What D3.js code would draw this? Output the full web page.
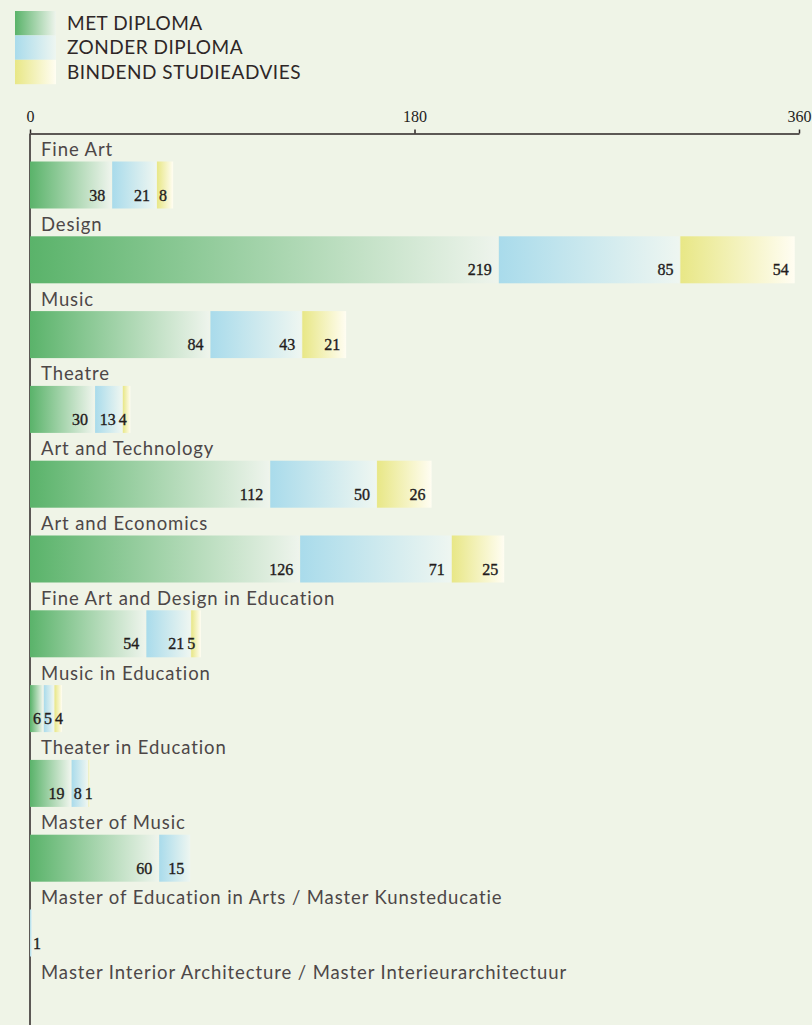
<!DOCTYPE html>
<html>
<head>
<meta charset="utf-8">
<script src="https://cdn.jsdelivr.net/npm/d3@7"></script>
<style>
  html, body { margin: 0; padding: 0; background: #eff4e7; }
  svg { display: block; }
  .cat-label { font-family: "Lato", sans-serif; font-size: 18.5px; fill: #4d4747; letter-spacing: 0.9px; }
  .legend-label { font-family: "Lato", sans-serif; font-size: 19px; fill: #2e2727; letter-spacing: 0.5px; }
  .val { font-family: "Liberation Serif", serif; font-size: 16px; fill: #231c1c; stroke: #231c1c; stroke-width: 0.35px; font-feature-settings: "onum"; }
  .axis-x text { font-family: "Liberation Serif", serif; font-size: 16px; fill: #231c1c; font-feature-settings: "onum"; }
  .axis-x path, .axis-x line { stroke: #2b2424; stroke-width: 1.5; }
</style>
</head>
<body>
<svg id="chart"></svg>
<script>
"use strict";

// categories, top to bottom
var categories = [
  "Fine Art",
  "Design",
  "Music",
  "Theatre",
  "Art and Technology",
  "Art and Economics",
  "Fine Art and Design in Education",
  "Music in Education",
  "Theater in Education",
  "Master of Music",
  "Master of Education in Arts / Master Kunsteducatie",
  "Master Interior Architecture / Master Interieurarchitectuur"
];

var seriesNames = ["MET DIPLOMA", "ZONDER DIPLOMA", "BINDEND STUDIEADVIES"];

var metDiploma          = [38, 219, 84, 30, 112, 126, 54, 6, 19, 60, 0, 0];
var zonderDiploma       = [21,  85, 43, 13,  50,  71, 21, 5,  8, 15, 1, 0];
var bindendStudieadvies = [ 8,  54, 21,  4,  26,  25,  5, 4,  1,  0, 0, 0];

var tickValues = [0, 180, 360];

// gradient stops per series (dark left -> pale right)
var gradStops = [
  ["#5ab36a", "#eef4ec"],
  ["#a9dbeb", "#eef6f1"],
  ["#e8e786", "#fffdf2"]
];

var W = 812, H = 1025;
var svg = d3.select("#chart").attr("width", W).attr("height", H);

var defs = svg.append("defs");
gradStops.forEach(function (s, i) {
  var g = defs.append("linearGradient")
    .attr("id", "grad" + i)
    .attr("x1", 0).attr("x2", 1).attr("y1", 0).attr("y2", 0);
  g.append("stop").attr("offset", "0%").attr("stop-color", s[0]);
  g.append("stop").attr("offset", "100%").attr("stop-color", s[1]);
});

// table for the stack
var rows = categories.map(function (c, i) {
  return {cat: c, s0: metDiploma[i], s1: zonderDiploma[i], s2: bindendStudieadvies[i]};
});
var stacked = d3.stack().keys(["s0", "s1", "s2"])(rows);

var x = d3.scaleLinear().domain([0, 360]).range([30, 799]);
var y = d3.scaleBand().domain(categories).range([151.5, 151.5 + 74.8 * categories.length]);
var barH = 47;

// legend
var legend = svg.append("g").attr("transform", "translate(15, 11)");
seriesNames.forEach(function (name, i) {
  legend.append("rect")
    .attr("x", 0).attr("y", i * 24.4)
    .attr("width", 41).attr("height", 24.4)
    .attr("fill", "url(#grad" + i + ")");
  legend.append("text").classed("legend-label", true)
    .attr("x", 52).attr("y", i * 24.4 + 19)
    .text(name);
});

// top axis
svg.append("g").classed("axis-x", true)
  .attr("transform", "translate(0, 133.5)")
  .call(d3.axisTop(x).tickValues(tickValues).tickSize(4).tickSizeOuter(0).tickPadding(8))
  .call(function (g) { g.selectAll("text").attr("fill", "#231c1c"); });

// vertical baseline
svg.append("line")
  .attr("x1", x(0)).attr("x2", x(0))
  .attr("y1", 133.5).attr("y2", H)
  .attr("stroke", "#2b2424").attr("stroke-width", 1.5);

// category labels
svg.append("g").selectAll("text")
  .data(categories).enter()
  .append("text").classed("cat-label", true)
  .attr("x", 41)
  .attr("y", function (d) { return y(d) + 4.5; })
  .text(function (d) { return d; });

// bars (1px gap between stacked segments)
var layers = svg.append("g").selectAll("g")
  .data(stacked).enter()
  .append("g")
  .attr("fill", function (d, i) { return "url(#grad" + i + ")"; });

function segX0(p) { return x(p[0]) + (p[0] > 0 ? 1 : 0); }

layers.selectAll("rect")
  .data(function (d) { return d.filter(function (p) { return p[1] > p[0]; }); })
  .enter().append("rect")
  .attr("x", segX0)
  .attr("y", function (p) { return y(p.data.cat) + 10; })
  .attr("width", function (p) { return x(p[1]) - segX0(p); })
  .attr("height", barH);

// value labels: right aligned in the segment, pushed right so they never collide
var valG = svg.append("g");
rows.forEach(function (r, ri) {
  var prevRight = x(0);
  stacked.forEach(function (layer) {
    var p = layer[ri];
    var v = p[1] - p[0];
    if (v <= 0) return;
    var t = valG.append("text").classed("val", true)
      .attr("y", y(r.cat) + 10 + barH - 8)
      .attr("text-anchor", "end")
      .text(v);
    var w = t.node().getComputedTextLength();
    var xe = Math.max(x(p[1]) - 6, prevRight + 3 + w);
    t.attr("x", xe);
    prevRight = xe;
  });
});
</script>
</body>
</html>
